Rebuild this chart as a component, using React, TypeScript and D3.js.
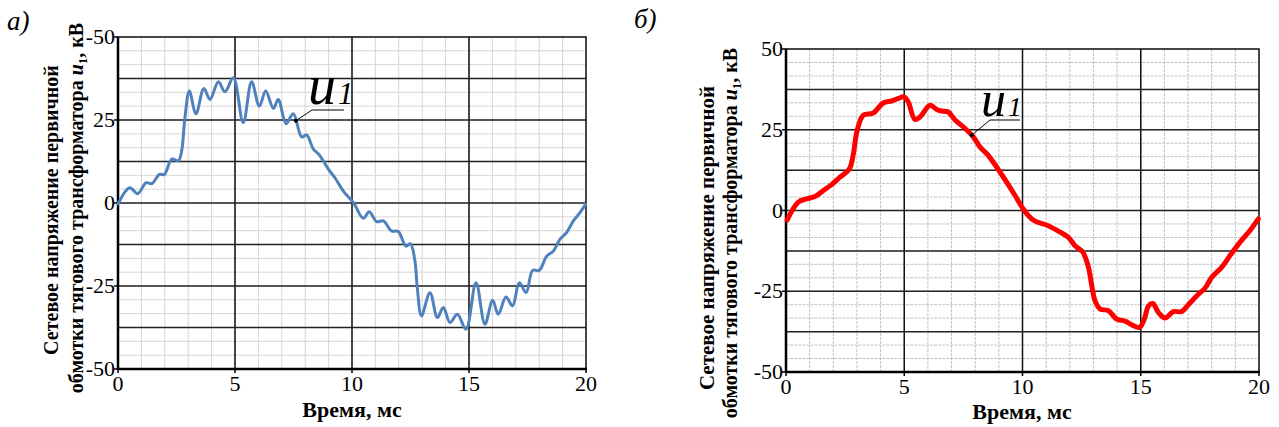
import { useEffect, useRef } from "react";
import * as d3 from "d3";

// time axis, ms
const xTicks = [0, 5, 10, 15, 20];
const yTicks = [50, 25, 0, -25, -50];
// left chart has "-50" printed at the top, as in the source figure
const yLabelsA = ["-50", "25", "0", "-25", "-50"];
const yLabelsB = ["50", "25", "0", "-25", "-50"];

// a) measured u1, kV
const timeA = [0, 0.5, 0.84, 1.2, 1.44, 1.77, 1.98, 2.3, 2.58, 2.72, 2.86, 3.05, 3.33, 3.67, 3.93, 4.29, 4.57, 4.93, 5.35, 5.71, 6.04, 6.31, 6.64, 6.85, 7.18, 7.49, 7.85, 8.06, 8.35, 8.6, 8.99, 9.27, 9.63, 10.06, 10.48, 10.74, 11.05, 11.34, 11.69, 11.98, 12.3, 12.5, 12.69, 12.79, 12.97, 13.33, 13.65, 13.9, 14.19, 14.5, 14.87, 15.3, 15.68, 16.01, 16.25, 16.58, 16.86, 17.15, 17.44, 17.72, 18.0, 18.32, 18.6, 18.89, 19.17, 19.46, 19.74, 19.98];
const voltA = [-0.3, 4.6, 2.8, 6.1, 5.8, 8.6, 8.6, 13.2, 12.7, 15.7, 25.7, 33.7, 26.9, 34.5, 31.2, 36.5, 33.5, 37.7, 24.2, 36.5, 29.2, 33.7, 28.5, 31.2, 23.9, 26.9, 19.9, 20.5, 16.2, 14.5, 10.2, 7.6, 3.6, 0.1, -4.6, -2.6, -5.6, -5.4, -8.4, -8.6, -13, -12.3, -17.5, -25.5, -34, -27, -34.5, -31.5, -36, -33.5, -38, -24, -36.5, -29.3, -33.5, -28.3, -31, -24, -27, -20.3, -20.3, -16, -14.5, -10.9, -8.9, -5.4, -2.9, -0.4];

// б) simulated u1, kV
const timeB = [0.05, 0.52, 0.87, 1.23, 1.58, 1.93, 2.28, 2.68, 2.85, 3.01, 3.27, 3.69, 4.11, 4.47, 4.75, 4.99, 5.17, 5.45, 5.67, 6.09, 6.37, 6.58, 6.86, 7.15, 7.57, 7.92, 8.2, 8.55, 8.91, 9.33, 9.68, 9.89, 10.03, 10.25, 10.53, 11.09, 11.59, 11.94, 12.22, 12.55, 12.79, 12.93, 13.07, 13.28, 13.63, 13.98, 14.33, 14.62, 14.95, 15.15, 15.33, 15.51, 15.75, 16.03, 16.38, 16.73, 17.01, 17.37, 17.72, 18.0, 18.42, 18.77, 19.2, 19.62, 19.97];
const voltB = [-2.9, 2.6, 3.6, 4.3, 6.2, 8, 10.3, 12.9, 17.6, 24.8, 29.5, 30.2, 33.3, 33.9, 34.7, 35.2, 33.6, 28.2, 29, 32.6, 31.3, 30.8, 30.5, 28, 25.4, 22.8, 19.7, 17.1, 13.4, 8.8, 4.7, 2.1, 0.5, -1.6, -3.3, -4.7, -6.7, -8.3, -10.9, -12.9, -17.6, -23.3, -28, -30.5, -31, -33.6, -34.2, -35.4, -36.2, -33.6, -29.5, -28.8, -31.6, -33.3, -31.3, -31.3, -29.2, -26.4, -24, -20.7, -17.6, -14, -9.8, -6.2, -2.6];

const SERIF = "'Liberation Serif', 'DejaVu Serif', 'Times New Roman', serif";

type Cfg = {
  x0: number; x1: number; y0: number; y1: number;
  t: number[]; v: number[]; labels: string[];
  color: string; lw: number; dashedMinor: boolean;
  tag: string; tagX: number; tagY: number;
  title1: [number, number, number]; title2: [number, number, number];
  xTitleX: number; xTitleY: number;
  anno: { t: number; lx: number; ly: number; lx2: number; tx: number; ty: number; size: number };
};

function drawChart(svg: d3.Selection<SVGSVGElement, unknown, null, undefined>, c: Cfg) {
  const x = d3.scaleLinear().domain([0, 20]).range([c.x0, c.x1]);
  const y = d3.scaleLinear().domain([-50, 50]).range([c.y0, c.y1]);
  const g = svg.append("g").style("font-family", SERIF);

  // minor grid
  const minorX = d3.range(0, 20.001, 1);
  const minorY = d3.range(-50, 50.001, 12.5 / 3);
  const minorColor = c.dashedMinor ? "#c4c4c4" : "#d6d6d6";
  g.selectAll(".mx").data(minorX).enter().append("line")
    .attr("x1", (d) => x(d)).attr("x2", (d) => x(d))
    .attr("y1", c.y0).attr("y2", c.y1)
    .attr("stroke", minorColor)
    .attr("stroke-dasharray", c.dashedMinor ? "3,1" : null)
    .attr("stroke-width", 1);
  g.selectAll(".my").data(minorY).enter().append("line")
    .attr("x1", c.x0).attr("x2", c.x1)
    .attr("y1", (d) => y(d)).attr("y2", (d) => y(d))
    .attr("stroke", minorColor)
    .attr("stroke-dasharray", c.dashedMinor ? "3,1" : null)
    .attr("stroke-width", 1);

  // major grid
  g.selectAll(".Mx").data([5, 10, 15]).enter().append("line")
    .attr("x1", (d) => x(d)).attr("x2", (d) => x(d))
    .attr("y1", c.y0).attr("y2", c.y1)
    .attr("stroke", "#111").attr("stroke-width", 1.5);
  g.selectAll(".My").data(d3.range(-37.5, 50, 12.5)).enter().append("line")
    .attr("x1", c.x0).attr("x2", c.x1)
    .attr("y1", (d) => y(d)).attr("y2", (d) => y(d))
    .attr("stroke", "#222").attr("stroke-width", 1.5);

  // frame
  g.append("rect").attr("x", c.x0).attr("y", c.y1)
    .attr("width", c.x1 - c.x0).attr("height", c.y0 - c.y1)
    .attr("fill", "none").attr("stroke", "#111").attr("stroke-width", 1.5);
  g.append("line").attr("x1", c.x0).attr("x2", c.x0).attr("y1", c.y1).attr("y2", c.y0 + 1)
    .attr("stroke", "#000").attr("stroke-width", 2.5);
  g.append("line").attr("x1", c.x0).attr("x2", c.x1 + 1).attr("y1", c.y0).attr("y2", c.y0)
    .attr("stroke", "#000").attr("stroke-width", 2.5);

  // ticks + labels
  g.selectAll(".yt").data(yTicks).enter().append("line")
    .attr("x1", c.x0 - 4).attr("x2", c.x0)
    .attr("y1", (d) => y(d)).attr("y2", (d) => y(d))
    .attr("stroke", "#000").attr("stroke-width", 1.5);
  g.selectAll(".yl").data(yTicks).enter().append("text")
    .attr("x", c.x0 - 3).attr("y", (d) => y(d) + 7)
    .attr("text-anchor", "end")
    .style("font-size", "22px")
    .text((d, i) => c.labels[i]);
  g.selectAll(".xt").data(xTicks).enter().append("line")
    .attr("x1", (d) => x(d)).attr("x2", (d) => x(d))
    .attr("y1", c.y0).attr("y2", c.y0 + 4)
    .attr("stroke", "#000").attr("stroke-width", 1.5);
  g.selectAll(".xl").data(xTicks).enter().append("text")
    .attr("x", (d) => x(d)).attr("y", c.y0 + 22)
    .attr("text-anchor", "middle")
    .style("font-size", "22px")
    .text((d) => d);

  // axis titles
  g.append("text").attr("x", c.xTitleX).attr("y", c.xTitleY)
    .attr("text-anchor", "middle")
    .style("font-size", "22px").style("font-weight", "bold")
    .text("Время, мс");
  g.append("text")
    .attr("transform", `translate(${c.title1[0]},${c.title1[1]}) rotate(-90)`)
    .attr("text-anchor", "middle")
    .style("font-size", c.title1[2] + "px").style("font-weight", "bold")
    .text("Сетевое напряжение первичной");
  const s2 = c.title2[2];
  const t2 = g.append("text")
    .attr("transform", `translate(${c.title2[0]},${c.title2[1]}) rotate(-90)`)
    .attr("text-anchor", "middle")
    .style("font-size", s2 + "px").style("font-weight", "bold");
  t2.append("tspan").text("обмотки тягового трансформатора ");
  t2.append("tspan").style("font-style", "italic").text("u");
  t2.append("tspan").attr("dy", 4).style("font-size", s2 * 0.65 + "px").text("1");
  t2.append("tspan").attr("dy", -4).text(", кВ");

  // panel tag
  g.append("text").attr("x", c.tagX).attr("y", c.tagY)
    .style("font-size", "27px").style("font-style", "italic")
    .text(c.tag);

  // curve
  const pts = c.t.map((t, i) => [t, c.v[i]] as [number, number]);
  const line = d3.line<[number, number]>()
    .x((d) => x(d[0])).y((d) => y(d[1]))
    .curve(d3.curveCatmullRom.alpha(0.5));
  g.append("path").attr("d", line(pts))
    .attr("fill", "none").attr("stroke", c.color)
    .attr("stroke-width", c.lw).attr("stroke-linejoin", "round").attr("stroke-linecap", "round");

  // u1 annotation
  const a = c.anno;
  const ai = d3.bisector((d: [number, number]) => d[0]).left(pts, a.t);
  const p0 = pts[Math.max(ai - 1, 0)], p1 = pts[ai];
  const av = p0[1] + ((p1[1] - p0[1]) * (a.t - p0[0])) / (p1[0] - p0[0]);
  g.append("polyline")
    .attr("points", `${x(a.t)},${y(av)} ${a.lx},${a.ly} ${a.lx2},${a.ly}`)
    .attr("fill", "none").attr("stroke", "#000").attr("stroke-width", 1);
  g.append("circle").attr("cx", x(a.t)).attr("cy", y(av)).attr("r", 2).attr("fill", "#000");
  const at = g.append("text").attr("x", a.tx).attr("y", a.ty).style("font-style", "italic");
  at.append("tspan").style("font-size", a.size + "px").text("u");
  at.append("tspan").attr("dx", 2).style("font-size", a.size * 0.55 + "px").text("1");
}

const App = () => {
  const ref = useRef<SVGSVGElement>(null);

  useEffect(() => {
    const svg = d3.select(ref.current as SVGSVGElement);
    svg.selectAll("*").remove();
    svg.append("rect").attr("width", 1279).attr("height", 427).attr("fill", "#fff");

    drawChart(svg, {
      x0: 118, x1: 586, y0: 369, y1: 37,
      t: timeA, v: voltA, labels: yLabelsA,
      color: "#4f81bd", lw: 3, dashedMinor: false,
      tag: "а)", tagX: 7, tagY: 30,
      title1: [58, 210, 20], title2: [83, 208, 20],
      xTitleX: 352, xTitleY: 417,
      anno: { t: 7.6, lx: 312, ly: 110, lx2: 344, tx: 308, ty: 104, size: 56 },
    });

    drawChart(svg, {
      x0: 786, x1: 1259, y0: 372, y1: 49,
      t: timeB, v: voltB, labels: yLabelsB,
      color: "#ff0000", lw: 5, dashedMinor: true,
      tag: "б)", tagX: 634, tagY: 28,
      title1: [714, 238, 21], title2: [737, 233, 20],
      xTitleX: 1022, xTitleY: 419,
      anno: { t: 7.85, lx: 990, ly: 120, lx2: 1020, tx: 981, ty: 116, size: 50 },
    });
  }, []);

  return (
    <div style={{ position: "absolute", left: 0, top: 0 }}>
      <svg ref={ref} width={1279} height={427} style={{ display: "block" }} />
    </div>
  );
};

export default App;
